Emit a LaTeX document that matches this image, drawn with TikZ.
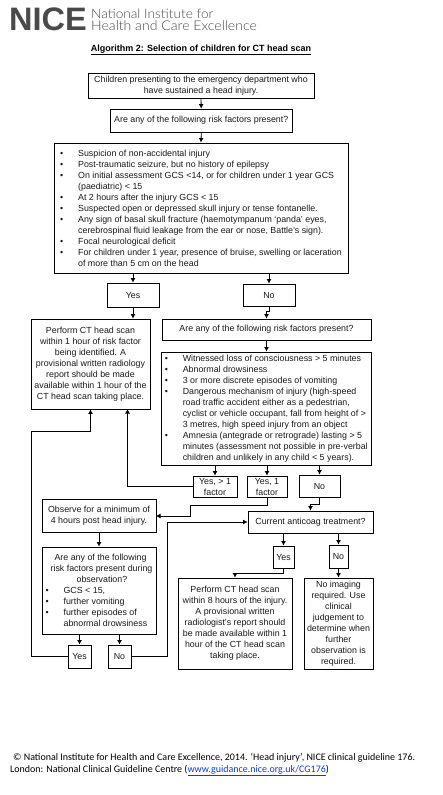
\documentclass[tikz,border=0pt]{standalone}
\usepackage{fontspec}
\setmainfont{Liberation Sans}
\newfontfamily\footfont{Carlito}
\newfontfamily\logofont[FakeStretch=1.05]{Lato Light}
\usetikzlibrary{arrows.meta}
\definecolor{logogray}{HTML}{4A4A4A}
\definecolor{linkblue}{HTML}{0B3FC4}
\newcommand{\itm}[1]{\makebox[18pt][l]{•}#1\\}
\newcommand{\cnt}[1]{\hspace*{18pt}#1\\}
\newcommand{\lst}[1]{\hspace*{18pt}#1}
\tikzset{
  x=1pt,y=-1pt,
  box/.style={draw=black,line width=0.9pt,inner xsep=1.5pt,inner ysep=0pt,align=center,font=\fontsize{8.85}{11}\selectfont,text=black!90},
  listbox/.style={box,align=left},
  link/.style={line width=0.8pt,draw=black},
  arrow/.style={link,-{Latex[length=4.5pt,width=5pt]}}
}
\newcommand{\bx}[7][box]{\node[#1,minimum width=#4-#3,minimum height=#6-#5] (#2) at ({(#3+#4)/2},{(#5+#6)/2}) {#7};}
\begin{document}
\begin{tikzpicture}
\useasboundingbox (0,0) rectangle (442,795);
\node[anchor=west,inner sep=0pt,text=logogray] (logo) at (9,19) {\fontsize{32.5}{32}\selectfont\bfseries NICE};
\node[anchor=west,inner sep=0pt,text=logogray] (logoa) at (91,13.5) {\logofont\fontsize{13}{13}\selectfont National Institute for};
\node[anchor=west,inner sep=0pt,text=logogray] (logob) at (91,25.5) {\logofont\fontsize{13.4}{13}\selectfont Health and Care Excellence};
\node[inner sep=0pt] (title) at (201,50) {\fontsize{9}{11}\selectfont\bfseries\underline{Algorithm 2: Selection of children for CT head scan}};

\bx{a}{88}{314}{73}{98}{Children presenting to the emergency department who\\have sustained a head injury.}
\bx{b}{110.5}{292}{109}{132}{Are any of the following risk factors present?}
\bx[listbox]{c}{54}{348}{143}{273}{\itm{Suspicion of non-accidental injury}\itm{Post-traumatic seizure, but no history of epilepsy}\itm{On initial assessment GCS <14, or for children under 1 year GCS}\cnt{(paediatric) < 15}\itm{At 2 hours after the injury GCS < 15}\itm{Suspected open or depressed skull injury or tense fontanelle.}\itm{Any sign of basal skull fracture (haemotympanum ‘panda’ eyes,}\cnt{cerebrospinal fluid leakage from the ear or nose, Battle’s sign).}\itm{Focal neurological deficit}\itm{For children under 1 year, presence of bruise, swelling or laceration}\lst{of more than 5 cm on the head}}
\bx{yesa}{107}{159}{283}{307}{Yes}
\bx{noa}{243}{295}{284}{306.5}{No}
\bx{cta}{31}{150}{319}{409}{Perform CT head scan\\within 1 hour of risk factor\\being identified. A\\provisional written radiology\\report should be made\\available within 1 hour of the\\CT head scan taking place.}
\bx{qb}{162}{371}{319}{340}{Are any of the following risk factors present?}
\bx[listbox]{d}{161.5}{371}{352}{465}{\itm{Witnessed loss of consciousness > 5 minutes}\itm{Abnormal drowsiness}\itm{3 or more discrete episodes of vomiting}\itm{Dangerous mechanism of injury (high-speed}\cnt{road traffic accident either as a pedestrian,}\cnt{cyclist or vehicle occupant, fall from height of >}\cnt{3 metres, high speed injury from an object}\itm{Amnesia (antegrade or retrograde) lasting > 5}\cnt{minutes (assessment not possible in pre-verbal}\lst{children and unlikely in any child < 5 years).}}
\bx{yesm}{193}{237}{476}{497}{Yes, > 1\\factor}
\bx{yeso}{247}{287}{476}{497}{Yes, 1\\factor}
\bx{nob}{299}{340}{475}{497}{No}
\bx{obs}{42}{156}{499}{532}{Observe for a minimum of\\4 hours post head injury.}
\bx{anti}{248}{373}{511}{533}{Current anticoag treatment?}
\bx{yesc}{273}{294}{546}{568}{Yes}
\bx{noc}{329}{348}{545}{568}{No}
\bx[listbox]{qc}{42}{156}{547}{634}{\hspace*{9pt}Are any of the following\\\hspace*{5pt}risk factors present during\\\hspace*{31pt}observation?\\\itm{GCS < 15,}\itm{further vomiting}\itm{further episodes of}\lst{abnormal drowsiness}}
\bx{ctb}{178}{292}{578}{669}{Perform CT head scan\\within 8 hours of the injury.\\A provisional written\\radiologist's report should\\be made available within 1\\hour of the CT head scan\\taking place.}
\bx{noimg}{304}{373}{578}{669}{No imaging\\required. Use\\clinical\\judgement to\\determine when\\further\\observation is\\required.}
\bx{yesd}{68}{91}{645}{668}{Yes}
\bx{nod}{108}{131}{645}{668}{No}

\draw[arrow] (a.south) -- (b.north);
\draw[arrow] (b.south) -- (c.north);
\draw[arrow] (c.south -| yesa.north) -- (yesa.north);
\draw[arrow] (c.south -| noa.north) -- (noa.north);
\draw[arrow] (yesa.south) -- (cta.north -| yesa.south);
\draw[arrow] (noa.south) -- ++(0,4) -| (qb.north);
\draw[arrow] (qb.south) -- (d.north -| qb.south);
\draw[arrow] (d.south -| yesm.north) -- (yesm.north);
\draw[arrow] (d.south -| yeso.north) -- (yeso.north);
\draw[arrow] (d.south -| nob.north) -- (nob.north);
\coordinate (ctentry) at (127.5,409);
\draw[arrow] (yesm.west) -| (ctentry);
\coordinate (leftrun) at (31,431.5);
\draw[arrow] (yesd.west) -| (leftrun) -| (cta.south);
\coordinate (midrun) at (167,522);
\draw[arrow] (nod.east) -| (midrun) -- (anti.west);
\coordinate (obsa) at (267,505);
\coordinate (obsb) at (190,505);
\coordinate (obsc) at (190,516);
\coordinate (obsd) at (156,516);
\draw[arrow] (yeso.south) -- (obsa) -- (obsb) -- (obsc) -- (obsd);
\draw[arrow] (nob.south) -- ++(0,7) -| (anti.north);
\draw[arrow] (obs.south) -- (qc.north);
\draw[arrow] (qc.south -| yesd.north) -- (yesd.north);
\draw[arrow] (qc.south -| nod.north) -- (nod.north);
\draw[arrow] (anti.south -| yesc.north) -- (yesc.north);
\draw[arrow] (anti.south -| noc.north) -- (noc.north);
\draw[arrow] (yesc.south) -- ++(0,5) -| (ctb.north);
\draw[arrow] (noc.south) -- (noimg.north);

\node[anchor=west,inner sep=0pt] (fa) at (13,758) {\footfont\fontsize{10}{12}\selectfont © National Institute for Health and Care Excellence, 2014. ‘Head injury’, NICE clinical guideline 176.};
\node[anchor=west,inner sep=0pt] (fb) at (10,770.5) {\footfont\fontsize{10}{12}\selectfont London: National Clinical Guideline Centre ({\color{linkblue}\underline{www.guidance.nice.org.uk/CG176}})};
\end{tikzpicture}
\end{document}
